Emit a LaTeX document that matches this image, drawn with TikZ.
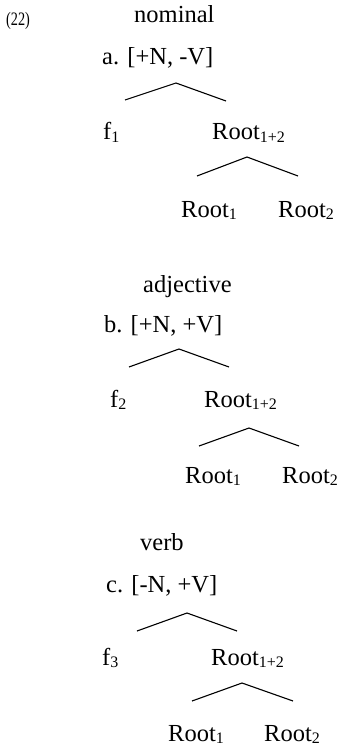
\documentclass[tikz,border=0pt]{standalone}
\usepackage{fontspec}
\setmainfont{Liberation Serif}
\newcommand{\sbx}[1]{\raisebox{-0.1em}{\fontsize{16}{16}\selectfont #1}}
\begin{document}
\begin{tikzpicture}[x=1pt,y=-1pt,
  lbl/.style={inner sep=0pt,anchor=base west,font=\fontsize{24.5}{28}\selectfont},
  edge/.style={line width=1.1pt}]
\useasboundingbox (0,0) rectangle (337,746);
% number
\node[inner sep=0pt,anchor=base west,font=\fontsize{19}{20}\selectfont,xscale=0.75] (num) at (6,26) {(22)};
% ---- tree a
\node[lbl] (atitle) at (134,23) {nominal};
\node[lbl] (ahead) at (102,65) {a. [+N, -V]};
\node[lbl] (af) at (103,140) {f\sbx{1}};
\node[lbl] (ar) at (212,140) {Root\sbx{1+2}};
\node[lbl] (ar1) at (181,217) {Root\sbx{1}};
\node[lbl] (ar2) at (278,217) {Root\sbx{2}};
\coordinate (aA) at (176,83); \coordinate (aL) at (125,100); \coordinate (aR) at (226,101);
\coordinate (aB) at (247,157); \coordinate (aBL) at (197,176); \coordinate (aBR) at (298,176);
\draw[edge] (aL) -- (aA) -- (aR);
\draw[edge] (aBL) -- (aB) -- (aBR);
% ---- tree b
\node[lbl] (btitle) at (143,292) {adjective};
\node[lbl] (bhead) at (104,332) {b. [+N, +V]};
\node[lbl] (bf) at (110,407) {f\sbx{2}};
\node[lbl] (br) at (204,407) {Root\sbx{1+2}};
\node[lbl] (br1) at (185,483) {Root\sbx{1}};
\node[lbl] (br2) at (282,483) {Root\sbx{2}};
\coordinate (bA) at (179,349); \coordinate (bL) at (129,367); \coordinate (bR) at (229,367);
\coordinate (bB) at (249,428); \coordinate (bBL) at (199,446); \coordinate (bBR) at (299,446);
\draw[edge] (bL) -- (bA) -- (bR);
\draw[edge] (bBL) -- (bB) -- (bBR);
% ---- tree c
\node[lbl] (ctitle) at (140,550) {verb};
\node[lbl] (chead) at (106,592) {c. [-N, +V]};
\node[lbl] (cf) at (102,665) {f\sbx{3}};
\node[lbl] (cr) at (211,665) {Root\sbx{1+2}};
\node[lbl] (cr1) at (168,741) {Root\sbx{1}};
\node[lbl] (cr2) at (264,741) {Root\sbx{2}};
\coordinate (cA) at (187,613); \coordinate (cL) at (137,631); \coordinate (cR) at (237,631);
\coordinate (cB) at (242,683); \coordinate (cBL) at (192,701); \coordinate (cBR) at (293,701);
\draw[edge] (cL) -- (cA) -- (cR);
\draw[edge] (cBL) -- (cB) -- (cBR);
\end{tikzpicture}
\end{document}
